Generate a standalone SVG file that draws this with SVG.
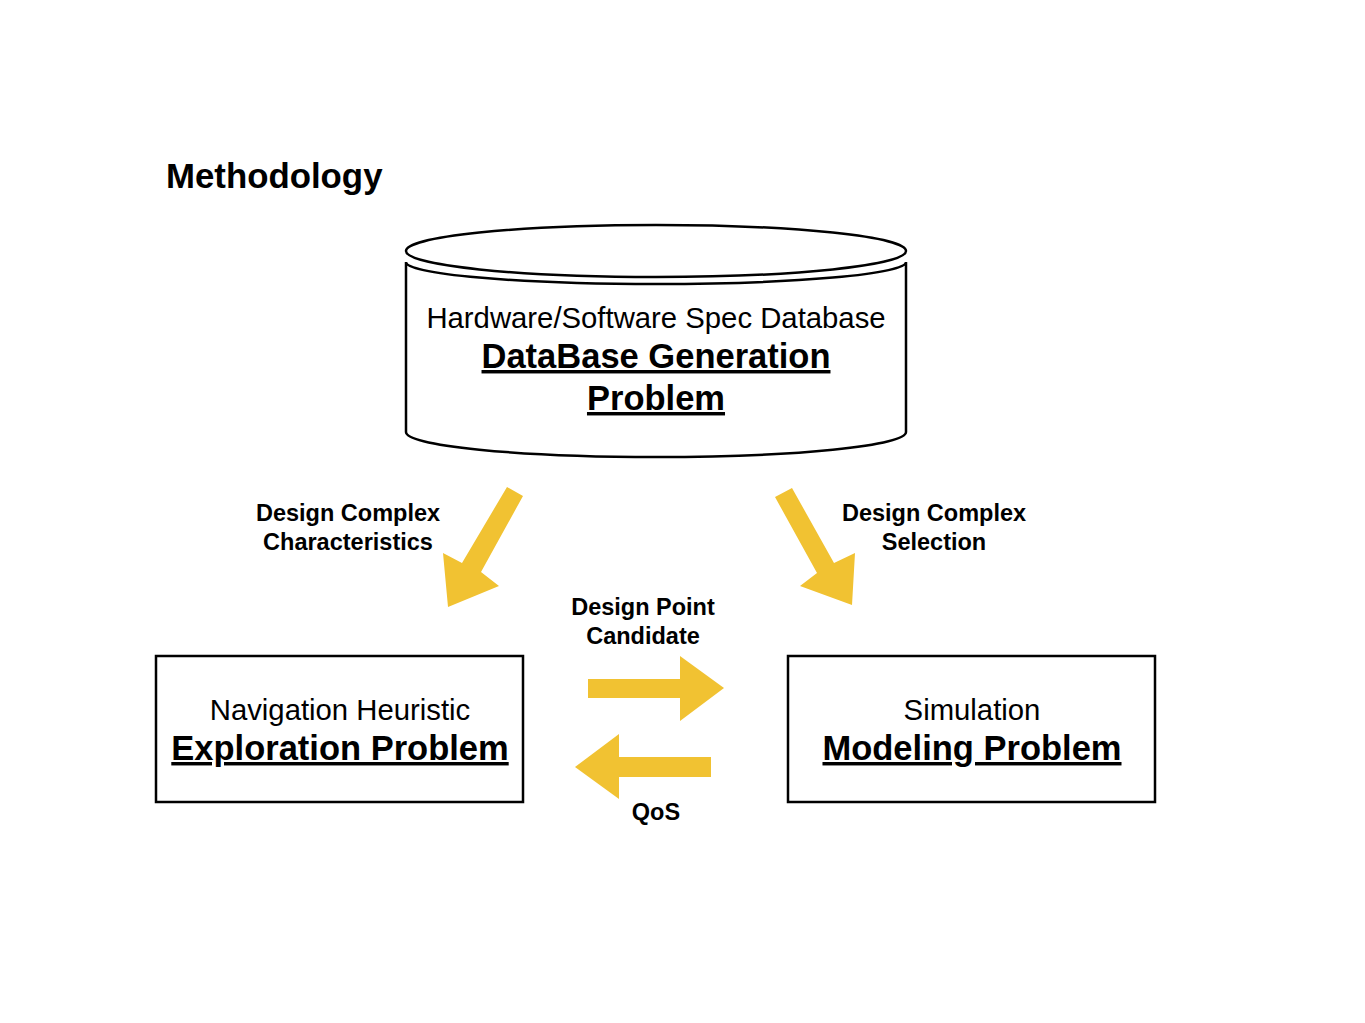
<svg xmlns="http://www.w3.org/2000/svg" width="1365" height="1023" viewBox="0 0 1365 1023">
<style>
.shape{fill:#fff;stroke:#000;stroke-width:2.5}
.reg{font-family:"Liberation Sans",Arial,sans-serif;font-size:29.3px;fill:#000;text-anchor:middle}
.big{font-family:"Liberation Sans",Arial,sans-serif;font-size:34.5px;font-weight:bold;fill:#000;text-anchor:middle;text-decoration:underline}
.lbl{font-family:"Liberation Sans",Arial,sans-serif;font-size:23.5px;font-weight:bold;fill:#000;text-anchor:middle}
.arr{fill:#F1C232}
</style>
<rect width="1365" height="1023" fill="#fff"/>
<text x="166" y="188" font-family="Liberation Sans, Arial, sans-serif" font-size="34.8" font-weight="bold">Methodology</text>
<g id="database">
<path class="shape" d="M406,262 A250,22 0 0 0 906,262 L906,432 A250,25 0 0 1 406,432 Z"/>
<ellipse class="shape" cx="656" cy="251" rx="250" ry="26"/>
<text class="reg" x="656" y="328">Hardware/Software Spec Database</text>
<text class="big" x="656" y="368">DataBase Generation</text>
<text class="big" x="656" y="410">Problem</text>
</g>
<g id="exploration">
<rect class="shape" x="156" y="656" width="367" height="146"/>
<text class="reg" x="340" y="720">Navigation Heuristic</text>
<text class="big" x="340" y="760">Exploration Problem</text>
</g>
<g id="modeling">
<rect class="shape" x="788" y="656" width="367" height="146"/>
<text class="reg" x="972" y="720">Simulation</text>
<text class="big" x="972" y="760">Modeling Problem</text>
</g>
<g id="connectors">
<polygon class="arr" points="507,487 523,496 481,572 499,586 448,607 443,553 462,563"/>
<polygon class="arr" points="775,497 792,488 834,563 855,553 852,605 800,586 817,573"/>
<polygon class="arr" points="588,679 680,679 680,656 724,688 680,721 680,698 588,698"/>
<polygon class="arr" points="711,757 619,757 619,734 575,767 619,799 619,777 711,777"/>
<text class="lbl" x="348" y="521">Design Complex</text>
<text class="lbl" x="348" y="550">Characteristics</text>
<text class="lbl" x="934" y="521">Design Complex</text>
<text class="lbl" x="934" y="550">Selection</text>
<text class="lbl" x="643" y="615">Design Point</text>
<text class="lbl" x="643" y="644">Candidate</text>
<text class="lbl" x="656" y="820">QoS</text>
</g>
</svg>
